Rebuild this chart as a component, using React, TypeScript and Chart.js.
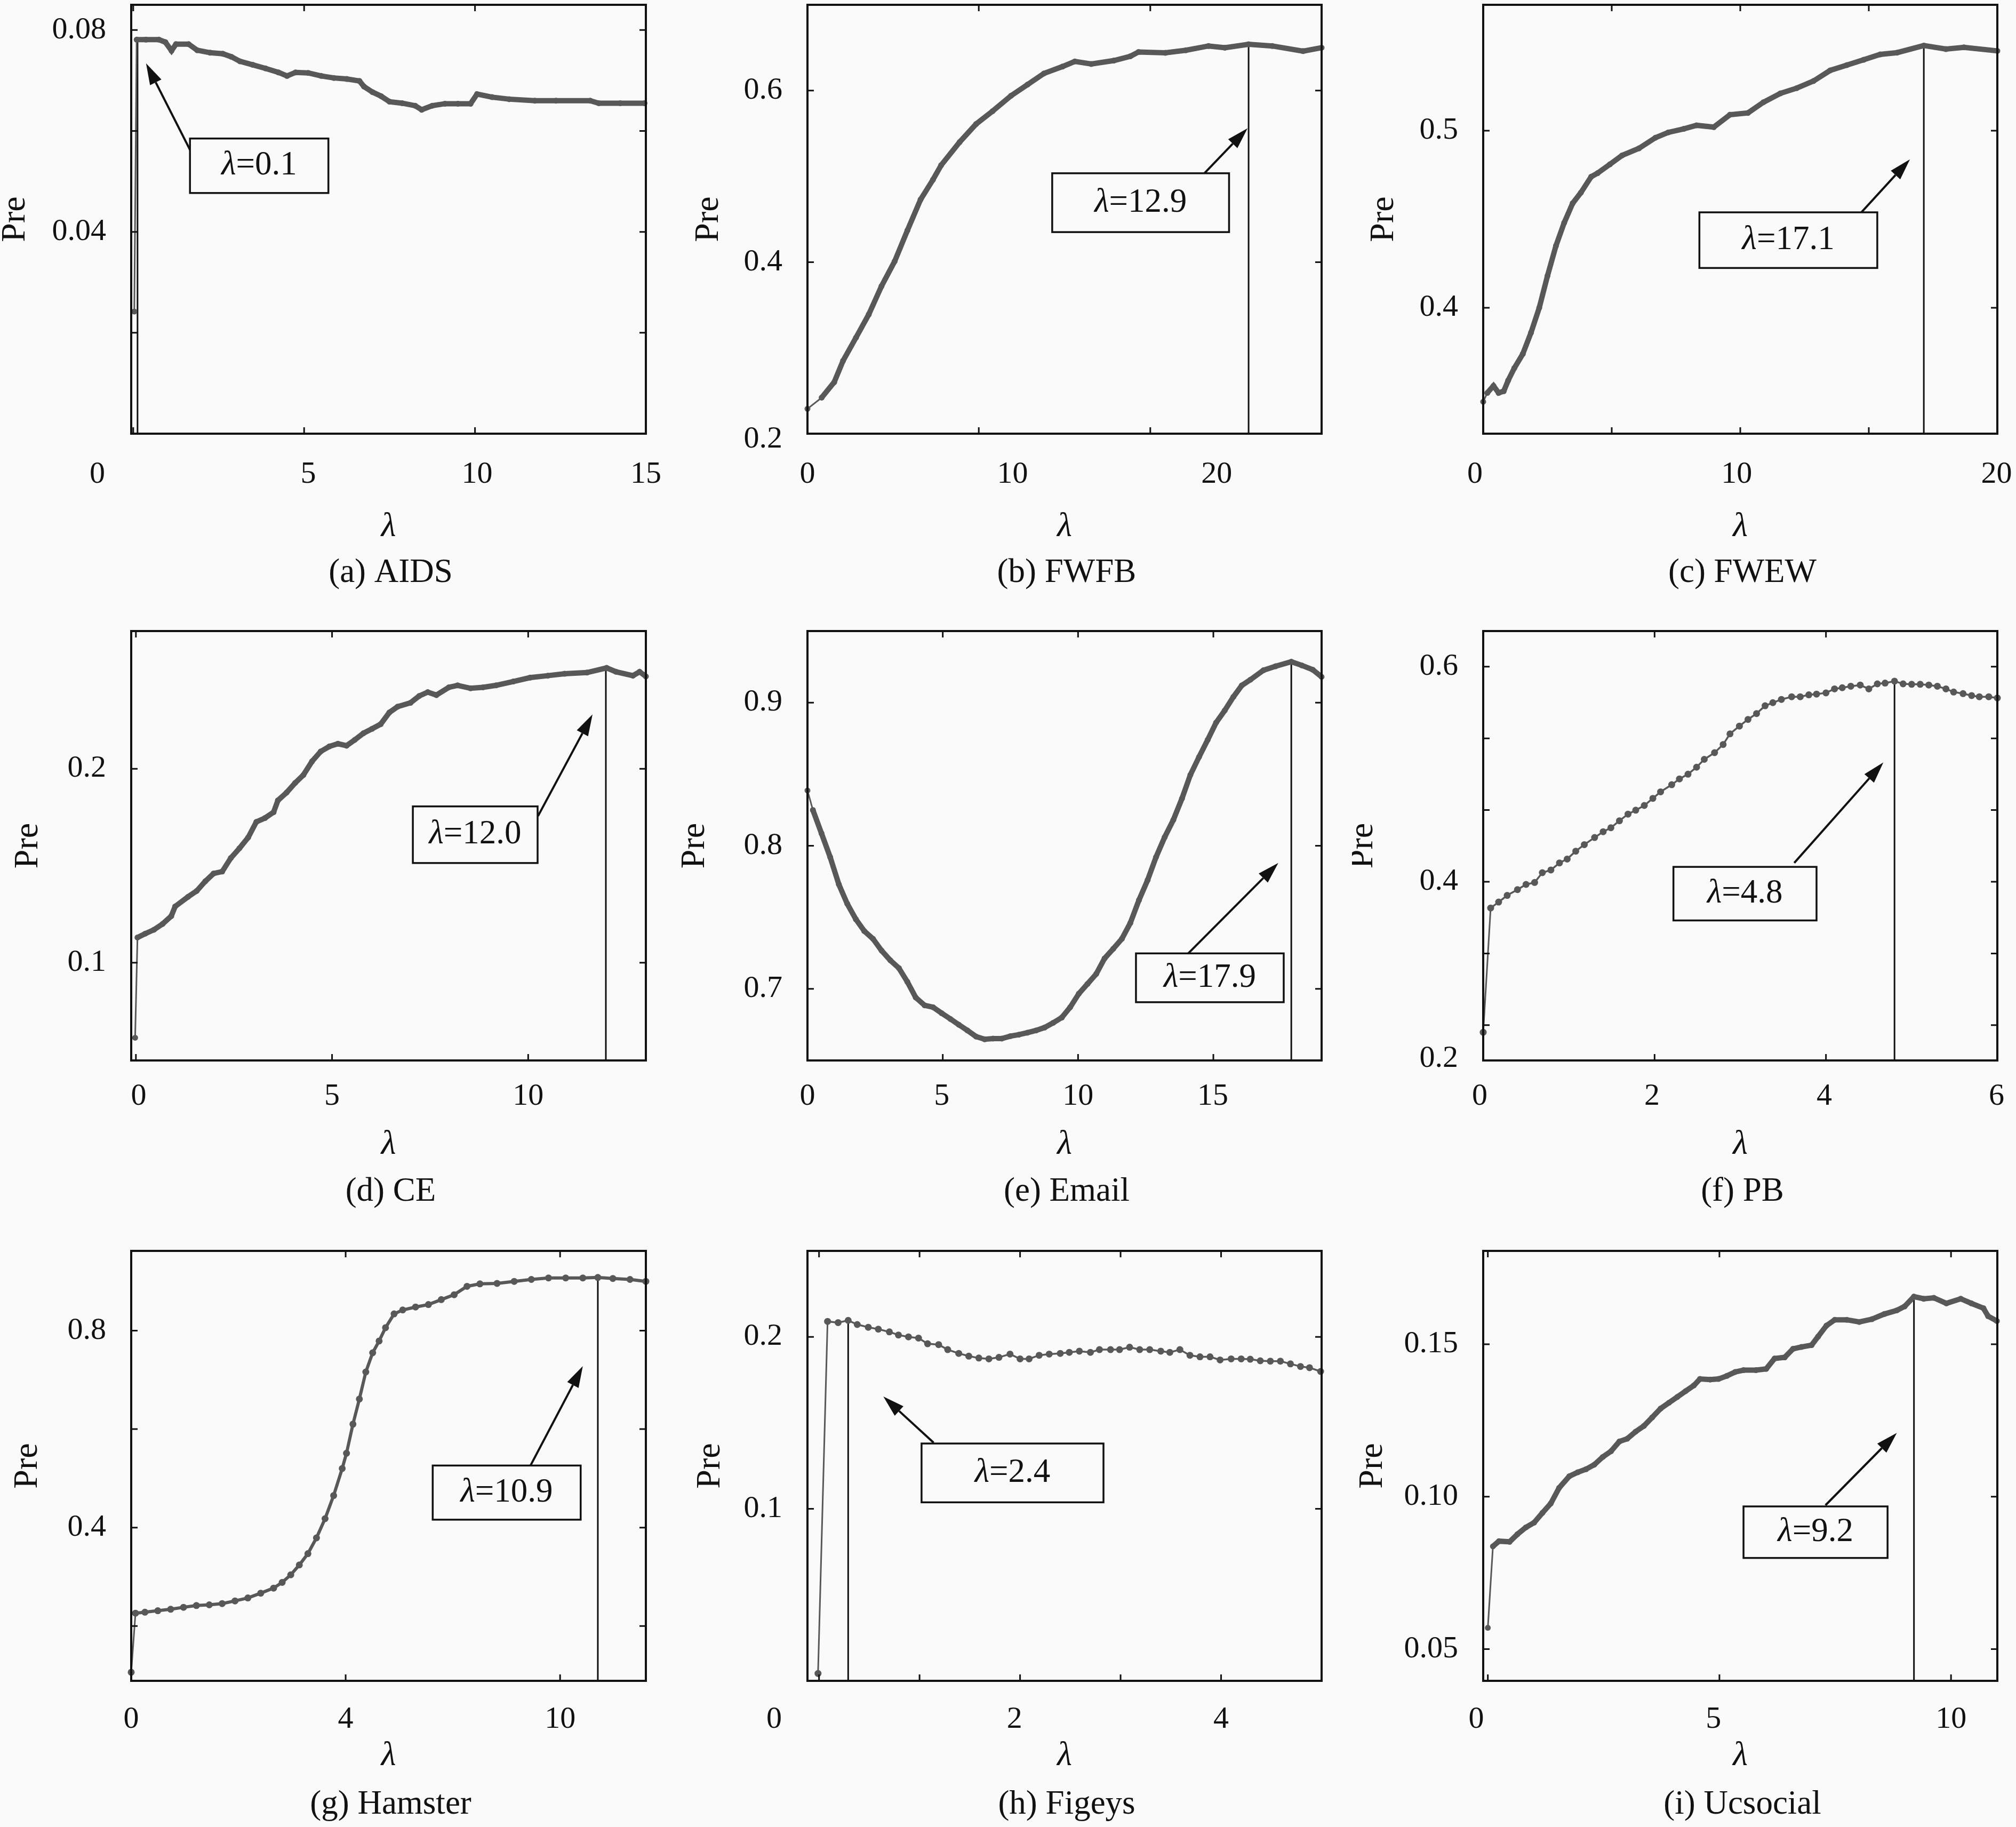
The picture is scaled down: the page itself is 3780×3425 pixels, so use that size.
import { useEffect, useRef } from "react";
import { Chart, registerables } from "chart.js";

Chart.register(...registerables);

const SERIF = `"Liberation Serif", "DejaVu Serif", serif`;
const INK = "#111111";
const CURVE = "#585858";
const PAPER = "#fafafa";

// (a) AIDS
const aidsLambda = [0.03, 0.1, 0.37, 0.75, 0.94, 1.12, 1.25, 1.62, 1.87, 2.25, 2.62, 2.87, 3.12, 3.5, 3.87, 4.25, 4.5, 4.75, 5.12, 5.5, 5.87, 6.25, 6.62, 6.75, 7.0, 7.25, 7.5, 7.87, 8.25, 8.44, 8.75, 9.12, 9.5, 9.87, 10.06, 10.5, 11.0, 11.75, 12.37, 13.37, 13.62, 14.25, 14.96];
const aidsPre = [0.0242, 0.0781, 0.0781, 0.0781, 0.0776, 0.0759, 0.0772, 0.0772, 0.076, 0.0755, 0.0753, 0.0747, 0.0738, 0.0731, 0.0724, 0.0716, 0.0709, 0.0716, 0.0715, 0.0709, 0.0705, 0.0703, 0.0699, 0.0688, 0.0677, 0.0669, 0.0658, 0.0655, 0.065, 0.0642, 0.065, 0.0654, 0.0654, 0.0654, 0.0673, 0.0667, 0.0663, 0.066, 0.066, 0.066, 0.0655, 0.0655, 0.0655];

// (b) FWFB
const fwfbLambda = [0, 0.69, 1.3, 1.73, 2.36, 2.98, 3.6, 4.24, 4.86, 5.5, 6.1, 6.5, 7.4, 8.2, 9.0, 9.9, 10.7, 11.5, 12.4, 13.0, 13.8, 14.9, 15.7, 16.1, 17.4, 18.4, 19.5, 20.3, 21.45, 22.6, 24.1, 25];
const fwfbPre = [0.229, 0.242, 0.26, 0.285, 0.312, 0.339, 0.372, 0.401, 0.437, 0.473, 0.496, 0.513, 0.54, 0.561, 0.576, 0.594, 0.607, 0.62, 0.628, 0.634, 0.631, 0.635, 0.64, 0.645, 0.644, 0.647, 0.652, 0.65, 0.654, 0.652, 0.646, 0.65];

// (c) FWEW
const fwewLambda = [0, 0.16, 0.4, 0.6, 0.8, 0.97, 1.21, 1.54, 1.86, 2.18, 2.5, 2.83, 3.15, 3.48, 3.8, 4.2, 4.45, 4.93, 5.4, 6.06, 6.7, 7.2, 7.8, 8.3, 8.97, 9.6, 10.3, 10.9, 11.56, 12.2, 12.85, 13.5, 14.15, 14.8, 15.44, 16.1, 17.14, 18.0, 18.7, 20];
const fwewPre = [0.347, 0.352, 0.356, 0.352, 0.353, 0.359, 0.366, 0.374, 0.386, 0.4, 0.418, 0.435, 0.448, 0.459, 0.465, 0.474, 0.476, 0.481, 0.486, 0.49, 0.496, 0.499, 0.501, 0.503, 0.502, 0.509, 0.51, 0.516, 0.521, 0.524, 0.528, 0.534, 0.537, 0.54, 0.543, 0.544, 0.548, 0.546, 0.547, 0.545];

// (d) CE
const ceLambda = [-0.02, 0.04, 0.24, 0.46, 0.68, 0.9, 1.0, 1.33, 1.55, 1.77, 1.98, 2.2, 2.42, 2.64, 2.86, 3.07, 3.29, 3.51, 3.62, 3.84, 4.06, 4.27, 4.49, 4.71, 4.93, 5.15, 5.37, 5.58, 5.8, 6.02, 6.24, 6.46, 6.67, 7.0, 7.22, 7.44, 7.66, 7.98, 8.2, 8.53, 8.85, 9.18, 9.62, 10.05, 10.5, 10.93, 11.5, 12.0, 12.24, 12.67, 12.84, 13.0];
const cePre = [0.0613, 0.113, 0.115, 0.117, 0.12, 0.124, 0.129, 0.134, 0.137, 0.142, 0.146, 0.147, 0.154, 0.159, 0.1645, 0.1726, 0.1746, 0.1776, 0.1837, 0.1877, 0.1927, 0.1968, 0.2038, 0.2089, 0.2115, 0.2129, 0.2119, 0.2149, 0.2183, 0.2206, 0.223, 0.229, 0.232, 0.234, 0.2375, 0.2395, 0.238, 0.242, 0.243, 0.2415, 0.242, 0.243, 0.245, 0.247, 0.248, 0.249, 0.2496, 0.252, 0.25, 0.248, 0.25, 0.2476];

// (e) Email
const emailLambda = [0, 0.2, 0.52, 0.84, 1.16, 1.47, 1.79, 2.1, 2.42, 2.74, 3.06, 3.38, 3.69, 4.0, 4.33, 4.64, 4.96, 5.28, 5.59, 5.91, 6.23, 6.55, 6.86, 7.18, 7.5, 7.81, 8.13, 8.45, 8.76, 9.08, 9.4, 9.71, 10.03, 10.35, 10.67, 10.98, 11.3, 11.62, 11.93, 12.25, 12.57, 12.88, 13.2, 13.52, 13.84, 14.15, 14.47, 14.79, 15.1, 15.42, 15.74, 16.05, 16.37, 16.85, 17.3, 17.88, 18.27, 18.67, 19.0];
const emailPre = [0.8386, 0.825, 0.8086, 0.792, 0.773, 0.7595, 0.7486, 0.7404, 0.735, 0.7267, 0.72, 0.7145, 0.705, 0.694, 0.6885, 0.6872, 0.683, 0.679, 0.675, 0.671, 0.6667, 0.6648, 0.6653, 0.6653, 0.667, 0.668, 0.6694, 0.671, 0.673, 0.6763, 0.68, 0.6872, 0.6967, 0.7035, 0.7104, 0.7213, 0.728, 0.735, 0.746, 0.762, 0.776, 0.792, 0.806, 0.818, 0.833, 0.8495, 0.862, 0.874, 0.886, 0.8945, 0.904, 0.912, 0.916, 0.9226, 0.9254, 0.9286, 0.926, 0.923, 0.918];

// (f) PB
const pbLambda = [0, 0.087, 0.18, 0.28, 0.4, 0.5, 0.6, 0.69, 0.79, 0.89, 0.98, 1.08, 1.18, 1.3, 1.4, 1.49, 1.59, 1.69, 1.78, 1.88, 1.98, 2.07, 2.2, 2.29, 2.39, 2.49, 2.58, 2.7, 2.8, 2.88, 2.99, 3.09, 3.19, 3.29, 3.38, 3.48, 3.6, 3.7, 3.8, 3.89, 4.0, 4.1, 4.19, 4.29, 4.4, 4.5, 4.6, 4.69, 4.8, 4.9, 5.0, 5.1, 5.2, 5.3, 5.4, 5.49, 5.6, 5.7, 5.79, 5.9, 6.0];
const pbPre = [0.26, 0.3756, 0.3811, 0.3873, 0.3927, 0.3975, 0.3993, 0.4084, 0.4109, 0.4175, 0.4211, 0.4284, 0.4345, 0.4411, 0.4465, 0.4502, 0.4567, 0.4629, 0.4665, 0.4709, 0.4775, 0.4836, 0.4902, 0.4956, 0.5, 0.5065, 0.5138, 0.52, 0.5276, 0.5375, 0.5447, 0.5509, 0.5564, 0.5636, 0.5665, 0.5695, 0.572, 0.572, 0.5738, 0.5745, 0.5756, 0.5793, 0.5804, 0.5818, 0.5829, 0.5793, 0.584, 0.5847, 0.5865, 0.584, 0.5836, 0.5836, 0.5829, 0.5818, 0.5793, 0.5764, 0.5749, 0.5731, 0.572, 0.572, 0.5709];

// (g) Hamster
const hamLambda = [0, 0.1, 0.32, 0.62, 0.92, 1.22, 1.52, 1.82, 2.12, 2.42, 2.72, 3.02, 3.32, 3.52, 3.72, 3.92, 4.12, 4.32, 4.52, 4.72, 4.92, 5.02, 5.17, 5.32, 5.47, 5.63, 5.78, 5.93, 6.13, 6.33, 6.63, 6.93, 7.23, 7.53, 7.83, 8.13, 8.53, 8.93, 9.33, 9.73, 10.13, 10.53, 10.88, 11.23, 11.63, 12];
const hamPre = [0.106, 0.226, 0.228, 0.231, 0.234, 0.238, 0.2416, 0.243, 0.2455, 0.251, 0.257, 0.2667, 0.277, 0.2886, 0.304, 0.324, 0.347, 0.379, 0.418, 0.465, 0.52, 0.551, 0.61, 0.661, 0.716, 0.755, 0.779, 0.806, 0.834, 0.842, 0.848, 0.853, 0.863, 0.873, 0.89, 0.895, 0.896, 0.9, 0.904, 0.907, 0.907, 0.907, 0.908, 0.906, 0.904, 0.9];

// (h) Figeys
const figLambda = [-0.01, 0.085, 0.19, 0.29, 0.38, 0.49, 0.59, 0.7, 0.79, 0.89, 0.99, 1.08, 1.19, 1.28, 1.39, 1.49, 1.59, 1.69, 1.79, 1.9, 2.0, 2.09, 2.19, 2.29, 2.4, 2.49, 2.59, 2.7, 2.79, 2.9, 2.99, 3.09, 3.19, 3.29, 3.4, 3.49, 3.59, 3.69, 3.79, 3.89, 3.99, 4.1, 4.2, 4.29, 4.39, 4.49, 4.59, 4.69, 4.79, 4.88, 4.99];
const figPre = [0.0043, 0.209, 0.2083, 0.2096, 0.2072, 0.2056, 0.2045, 0.2029, 0.2011, 0.2, 0.1993, 0.196, 0.1955, 0.1926, 0.1904, 0.1888, 0.1877, 0.1872, 0.1881, 0.19, 0.1872, 0.1872, 0.1893, 0.19, 0.1904, 0.191, 0.1917, 0.191, 0.1926, 0.1926, 0.1926, 0.194, 0.1926, 0.1926, 0.1917, 0.191, 0.1926, 0.1893, 0.1884, 0.1884, 0.1866, 0.1872, 0.1872, 0.187, 0.1861, 0.1859, 0.1859, 0.1843, 0.1828, 0.1821, 0.1799];

// (i) Ucsocial
const ucLambda = [0, 0.11, 0.24, 0.47, 0.64, 0.82, 1.0, 1.18, 1.36, 1.54, 1.76, 1.94, 2.12, 2.3, 2.48, 2.66, 2.84, 3.01, 3.19, 3.37, 3.55, 3.73, 3.91, 4.09, 4.27, 4.45, 4.58, 4.8, 4.98, 5.16, 5.34, 5.52, 5.79, 6.01, 6.19, 6.41, 6.59, 6.77, 6.99, 7.13, 7.31, 7.49, 7.75, 8.02, 8.29, 8.56, 8.83, 9.0, 9.2, 9.41, 9.63, 9.9, 10.21, 10.44, 10.7, 10.8, 10.99];
const ucPre = [0.057, 0.0837, 0.0854, 0.0852, 0.0877, 0.0899, 0.0915, 0.0947, 0.0978, 0.1029, 0.1067, 0.108, 0.109, 0.1105, 0.113, 0.1149, 0.1181, 0.119, 0.1213, 0.1232, 0.126, 0.1289, 0.1308, 0.1327, 0.1346, 0.1365, 0.1386, 0.1384, 0.1386, 0.1396, 0.1409, 0.1415, 0.1415, 0.1419, 0.1453, 0.1457, 0.1485, 0.1491, 0.1497, 0.1525, 0.1561, 0.158, 0.158, 0.1573, 0.1582, 0.1599, 0.1611, 0.1624, 0.1656, 0.1649, 0.1652, 0.1634, 0.1649, 0.1634, 0.1618, 0.1592, 0.1576];

// plot boxes on the page (px) and text offsets below each row
const COLS = [[246, 1211], [1514, 2478], [2781, 3745]];
const ROWS = [[9, 813], [1183, 1988], [2345, 3151]];
const TICK_DY = [77, 68, 73];
const LAMBDA_DY = [175, 158, 141];
const CAPTION_DY = [261, 246, 232];
const PAGE_H = 3425;

type Panel = {
  caption: string;
  lambda: number[];
  pre: number[];
  x: [number, number];
  y: [number, number];
  xTicks: number[];
  xLabelAt: number[];
  xLabels: string[];
  yTicks: number[];
  yLabelAt: number[];
  yLabels: string[];
  best: string;
  peak: [number, number];
  arrow: [number, number, number, number]; // tail x, y -> tip x, y
  box: [number, number, number, number]; // x1, x2, yTop, yBottom
  col: number;
  row: number;
  preGap: number;
  line: number;
  dot: number;
};

const panels: Panel[] = [
  {
    caption: "(a) AIDS", lambda: aidsLambda, pre: aidsPre, x: [-0.06, 15], y: [0, 0.085],
    xTicks: [0, 5, 10], xLabelAt: [-1.05, 5.12, 10.06, 15], xLabels: ["0", "5", "10", "15"],
    yTicks: [0.02, 0.04, 0.06, 0.08], yLabelAt: [0.08, 0.04], yLabels: ["0.08", "0.04"],
    best: "0.1", peak: [0.125, 0.0781], arrow: [1.71, 0.0556, 0.375, 0.0734], box: [1.66, 5.71, 0.0585, 0.0477],
    col: 0, row: 0, preGap: 217, line: 10, dot: 5.5,
  },
  {
    caption: "(b) FWFB", lambda: fwfbLambda, pre: fwfbPre, x: [0, 25], y: [0.2, 0.7],
    xTicks: [8.33, 16.67], xLabelAt: [0, 9.97, 19.9], xLabels: ["0", "10", "20"],
    yTicks: [0.4, 0.6], yLabelAt: [0.6, 0.4, 0.193], yLabels: ["0.6", "0.4", "0.2"],
    best: "12.9", peak: [21.45, 0.654], arrow: [19.3, 0.5036, 21.4, 0.556], box: [11.9, 20.5, 0.5036, 0.435],
    col: 1, row: 0, preGap: 185, line: 10, dot: 5.5,
  },
  {
    caption: "(c) FWEW", lambda: fwewLambda, pre: fwewPre, x: [0, 20], y: [0.329, 0.571],
    xTicks: [5, 10, 15], xLabelAt: [-0.32, 9.86, 19.97], xLabels: ["0", "10", "20"],
    yTicks: [0.4, 0.5], yLabelAt: [0.5, 0.4], yLabels: ["0.5", "0.4"],
    best: "17.1", peak: [17.14, 0.548], arrow: [14.71, 0.4539, 16.6, 0.4838], box: [8.41, 15.33, 0.4539, 0.4225],
    col: 2, row: 0, preGap: 186, line: 10, dot: 5.5,
  },
  {
    caption: "(d) CE", lambda: ceLambda, pre: cePre, x: [-0.12, 13], y: [0.0496, 0.271],
    xTicks: [0, 5, 10], xLabelAt: [0.07, 5, 10], xLabels: ["0", "5", "10"],
    yTicks: [0.1, 0.2], yLabelAt: [0.2, 0.1], yLabels: ["0.2", "0.1"],
    best: "12.0", peak: [11.98, 0.252], arrow: [10.25, 0.1756, 11.64, 0.228], box: [7.06, 10.24, 0.1806, 0.1514],
    col: 0, row: 1, preGap: 193, line: 10, dot: 5.5,
  },
  {
    caption: "(e) Email", lambda: emailLambda, pre: emailPre, x: [0, 19], y: [0.65, 0.95],
    xTicks: [5, 10, 15], xLabelAt: [0, 4.96, 10, 14.98], xLabels: ["0", "5", "10", "15"],
    yTicks: [0.7, 0.8, 0.9], yLabelAt: [0.9, 0.8, 0.7], yLabels: ["0.9", "0.8", "0.7"],
    best: "17.9", peak: [17.88, 0.9286], arrow: [14.07, 0.7248, 17.4, 0.788], box: [12.14, 17.6, 0.7248, 0.6907],
    col: 1, row: 1, preGap: 211, line: 10, dot: 5.5,
  },
  {
    caption: "(f) PB", lambda: pbLambda, pre: pbPre, x: [0, 6], y: [0.2338, 0.6331],
    xTicks: [2, 4], xLabelAt: [-0.04, 1.97, 3.98, 5.99], xLabels: ["0", "2", "4", "6"],
    yTicks: [0.2667, 0.3333, 0.4, 0.4667, 0.5333, 0.6], yLabelAt: [0.6, 0.4, 0.2356], yLabels: ["0.6", "0.4", "0.2"],
    best: "4.8", peak: [4.8, 0.5865], arrow: [3.63, 0.4175, 4.67, 0.5109], box: [2.22, 3.89, 0.4138, 0.364],
    col: 2, row: 1, preGap: 225, line: 3.5, dot: 6.5,
  },
  {
    caption: "(g) Hamster", lambda: hamLambda, pre: hamPre, x: [0, 12], y: [0.0886, 0.962],
    xTicks: [0, 5, 10], xLabelAt: [0, 5, 10], xLabels: ["0", "4", "10"],
    yTicks: [0.2, 0.4, 0.6, 0.8], yLabelAt: [0.8, 0.4], yLabels: ["0.8", "0.4"],
    best: "10.9", peak: [10.88, 0.908], arrow: [9.31, 0.526, 10.53, 0.728], box: [7.03, 10.48, 0.526, 0.416],
    col: 0, row: 2, preGap: 194, line: 6, dot: 6.5,
  },
  {
    caption: "(h) Figeys", lambda: figLambda, pre: figPre, x: [-0.115, 5], y: [0, 0.25],
    xTicks: [0, 1, 2, 3, 4], xLabelAt: [-0.446, 1.945, 4.0], xLabels: ["0", "2", "4"],
    yTicks: [0.1, 0.2], yLabelAt: [0.2, 0.1], yLabels: ["0.2", "0.1"],
    best: "2.4", peak: [0.29, 0.2096], arrow: [1.14, 0.1385, 0.64, 0.1653], box: [1.02, 2.83, 0.138, 0.1038],
    col: 1, row: 2, preGap: 182, line: 3.5, dot: 6.5,
  },
  {
    caption: "(i) Ucsocial", lambda: ucLambda, pre: ucPre, x: [-0.1, 11], y: [0.0396, 0.1806],
    xTicks: [0, 5, 10], xLabelAt: [-0.25, 4.87, 10], xLabels: ["0", "5", "10"],
    yTicks: [0.05, 0.1, 0.15], yLabelAt: [0.15, 0.1, 0.05], yLabels: ["0.15", "0.10", "0.05"],
    best: "9.2", peak: [9.2, 0.1656], arrow: [7.29, 0.0972, 8.83, 0.1209], box: [5.52, 8.63, 0.0968, 0.0799],
    col: 2, row: 2, preGap: 207, line: 10, dot: 5.5,
  },
];

function canvasBox(p: Panel) {
  const [l, r] = COLS[p.col];
  const [t, b] = ROWS[p.row];
  const left = l - 246;
  const top = t - 9;
  const width = p.col === 2 ? 3780 - left : r + 35 - left;
  const height = p.row === 2 ? PAGE_H - top : b + 300 - top;
  return {
    left, top, width, height,
    padding: { left: l - left, top: t - top, right: left + width - r, bottom: top + height - b },
  };
}

function decorations(p: Panel) {
  return {
    id: "decorations",
    beforeDatasetsDraw(chart: Chart) {
      const { ctx, chartArea: a } = chart;
      const x = chart.scales.x;
      const y = chart.scales.y;
      // vertical marker at the best lambda
      const px = x.getPixelForValue(p.peak[0]);
      ctx.save();
      ctx.strokeStyle = INK;
      ctx.lineWidth = 3;
      ctx.beginPath();
      ctx.moveTo(px, y.getPixelForValue(p.peak[1]));
      ctx.lineTo(px, a.bottom);
      ctx.stroke();
      ctx.restore();
    },
    afterDraw(chart: Chart) {
      const { ctx, chartArea: a } = chart;
      const x = chart.scales.x;
      const y = chart.scales.y;
      const cx = (a.left + a.right) / 2;
      ctx.save();

      // frame with inward ticks on all four sides
      ctx.strokeStyle = INK;
      ctx.lineWidth = 4;
      ctx.strokeRect(a.left, a.top, a.right - a.left, a.bottom - a.top);
      ctx.lineWidth = 3;
      ctx.beginPath();
      p.xTicks.forEach((v) => {
        const tx = x.getPixelForValue(v);
        ctx.moveTo(tx, a.bottom);
        ctx.lineTo(tx, a.bottom - 12);
        ctx.moveTo(tx, a.top);
        ctx.lineTo(tx, a.top + 12);
      });
      p.yTicks.forEach((v) => {
        const ty = y.getPixelForValue(v);
        ctx.moveTo(a.left, ty);
        ctx.lineTo(a.left + 12, ty);
        ctx.moveTo(a.right, ty);
        ctx.lineTo(a.right - 12, ty);
      });
      ctx.stroke();

      // tick labels
      ctx.fillStyle = INK;
      ctx.font = `58px ${SERIF}`;
      ctx.textBaseline = "middle";
      ctx.textAlign = "center";
      p.xLabelAt.forEach((v, i) => {
        ctx.fillText(p.xLabels[i], x.getPixelForValue(v), a.bottom + TICK_DY[p.row]);
      });
      ctx.textAlign = "right";
      p.yLabelAt.forEach((v, i) => {
        ctx.fillText(p.yLabels[i], a.left - 47, y.getPixelForValue(v));
      });

      // axis titles and caption
      ctx.textAlign = "center";
      ctx.font = `italic 64px ${SERIF}`;
      ctx.fillText("λ", cx, a.bottom + LAMBDA_DY[p.row]);
      ctx.font = `63px ${SERIF}`;
      ctx.fillText(p.caption, cx + 4, a.bottom + CAPTION_DY[p.row]);
      ctx.save();
      ctx.translate(a.left - p.preGap, (a.top + a.bottom) / 2);
      ctx.rotate(-Math.PI / 2);
      ctx.font = `64px ${SERIF}`;
      ctx.fillText("Pre", 0, 0);
      ctx.restore();

      // arrow
      const sx = x.getPixelForValue(p.arrow[0]);
      const sy = y.getPixelForValue(p.arrow[1]);
      const tx = x.getPixelForValue(p.arrow[2]);
      const ty = y.getPixelForValue(p.arrow[3]);
      const ang = Math.atan2(ty - sy, tx - sx);
      const head = 40;
      const half = 12;
      const bx = tx - head * Math.cos(ang);
      const by = ty - head * Math.sin(ang);
      ctx.lineWidth = 4;
      ctx.beginPath();
      ctx.moveTo(sx, sy);
      ctx.lineTo(bx, by);
      ctx.stroke();
      ctx.beginPath();
      ctx.moveTo(tx, ty);
      ctx.lineTo(bx - half * Math.sin(ang), by + half * Math.cos(ang));
      ctx.lineTo(bx + half * Math.sin(ang), by - half * Math.cos(ang));
      ctx.closePath();
      ctx.fill();

      // label box
      const x1 = x.getPixelForValue(p.box[0]);
      const x2 = x.getPixelForValue(p.box[1]);
      const y1 = y.getPixelForValue(p.box[2]);
      const y2 = y.getPixelForValue(p.box[3]);
      ctx.fillStyle = PAPER;
      ctx.fillRect(x1, y1, x2 - x1, y2 - y1);
      ctx.lineWidth = 3.5;
      ctx.strokeRect(x1, y1, x2 - x1, y2 - y1);
      ctx.fillStyle = INK;
      ctx.font = `italic 63px ${SERIF}`;
      const w1 = ctx.measureText("λ").width;
      ctx.font = `63px ${SERIF}`;
      const rest = "=" + p.best;
      const w2 = ctx.measureText(rest).width;
      const start = (x1 + x2) / 2 - (w1 + w2) / 2;
      const mid = (y1 + y2) / 2;
      ctx.textAlign = "left";
      ctx.font = `italic 63px ${SERIF}`;
      ctx.fillText("λ", start, mid);
      ctx.font = `63px ${SERIF}`;
      ctx.fillText(rest, start + w1, mid);

      ctx.restore();
    },
  };
}

function PanelChart({ panel }: { panel: Panel }) {
  const canvasRef = useRef<HTMLCanvasElement | null>(null);
  const box = canvasBox(panel);

  useEffect(() => {
    if (!canvasRef.current) return;
    let alive = true;
    const points = panel.lambda
      .slice(0, panel.pre.length)
      .map((v, i) => ({ x: v, y: panel.pre[i] }));
    const chart = new Chart(canvasRef.current, {
      type: "line",
      data: {
        datasets: [
          {
            data: points,
            borderColor: CURVE,
            backgroundColor: CURVE,
            borderWidth: panel.line,
            pointRadius: panel.dot,
            pointBorderWidth: 0,
            pointBackgroundColor: CURVE,
            tension: 0,
            clip: false,
            segment: {
              // the first jump is drawn as a thin line
              borderWidth: (c: any) => (c.p0DataIndex === 0 ? 3 : panel.line),
            },
          },
        ],
      },
      options: {
        animation: false,
        responsive: false,
        events: [],
        layout: { padding: box.padding },
        plugins: { legend: { display: false }, tooltip: { enabled: false } },
        scales: {
          x: { type: "linear", display: false, min: panel.x[0], max: panel.x[1] },
          y: { type: "linear", display: false, min: panel.y[0], max: panel.y[1] },
        },
      },
      plugins: [decorations(panel)],
    } as any);

    // redraw once the serif faces are surely available to the canvas
    Promise.all([
      document.fonts.load(`60px "Liberation Serif"`),
      document.fonts.load(`italic 60px "Liberation Serif"`),
    ])
      .catch(() => null)
      .then(() => {
        if (alive) chart.draw();
      });

    return () => {
      alive = false;
      chart.destroy();
    };
  }, [panel]);

  return (
    <canvas
      ref={canvasRef}
      width={box.width}
      height={box.height}
      style={{ position: "absolute", left: box.left, top: box.top }}
    />
  );
}

export default function App() {
  return (
    <div
      style={{
        position: "absolute",
        left: 0,
        top: 0,
        width: 3780,
        height: PAGE_H,
        background: PAPER,
        overflow: "hidden",
        fontFamily: SERIF,
      }}
    >
      {panels.map((p) => (
        <PanelChart key={p.caption} panel={p} />
      ))}
    </div>
  );
}
